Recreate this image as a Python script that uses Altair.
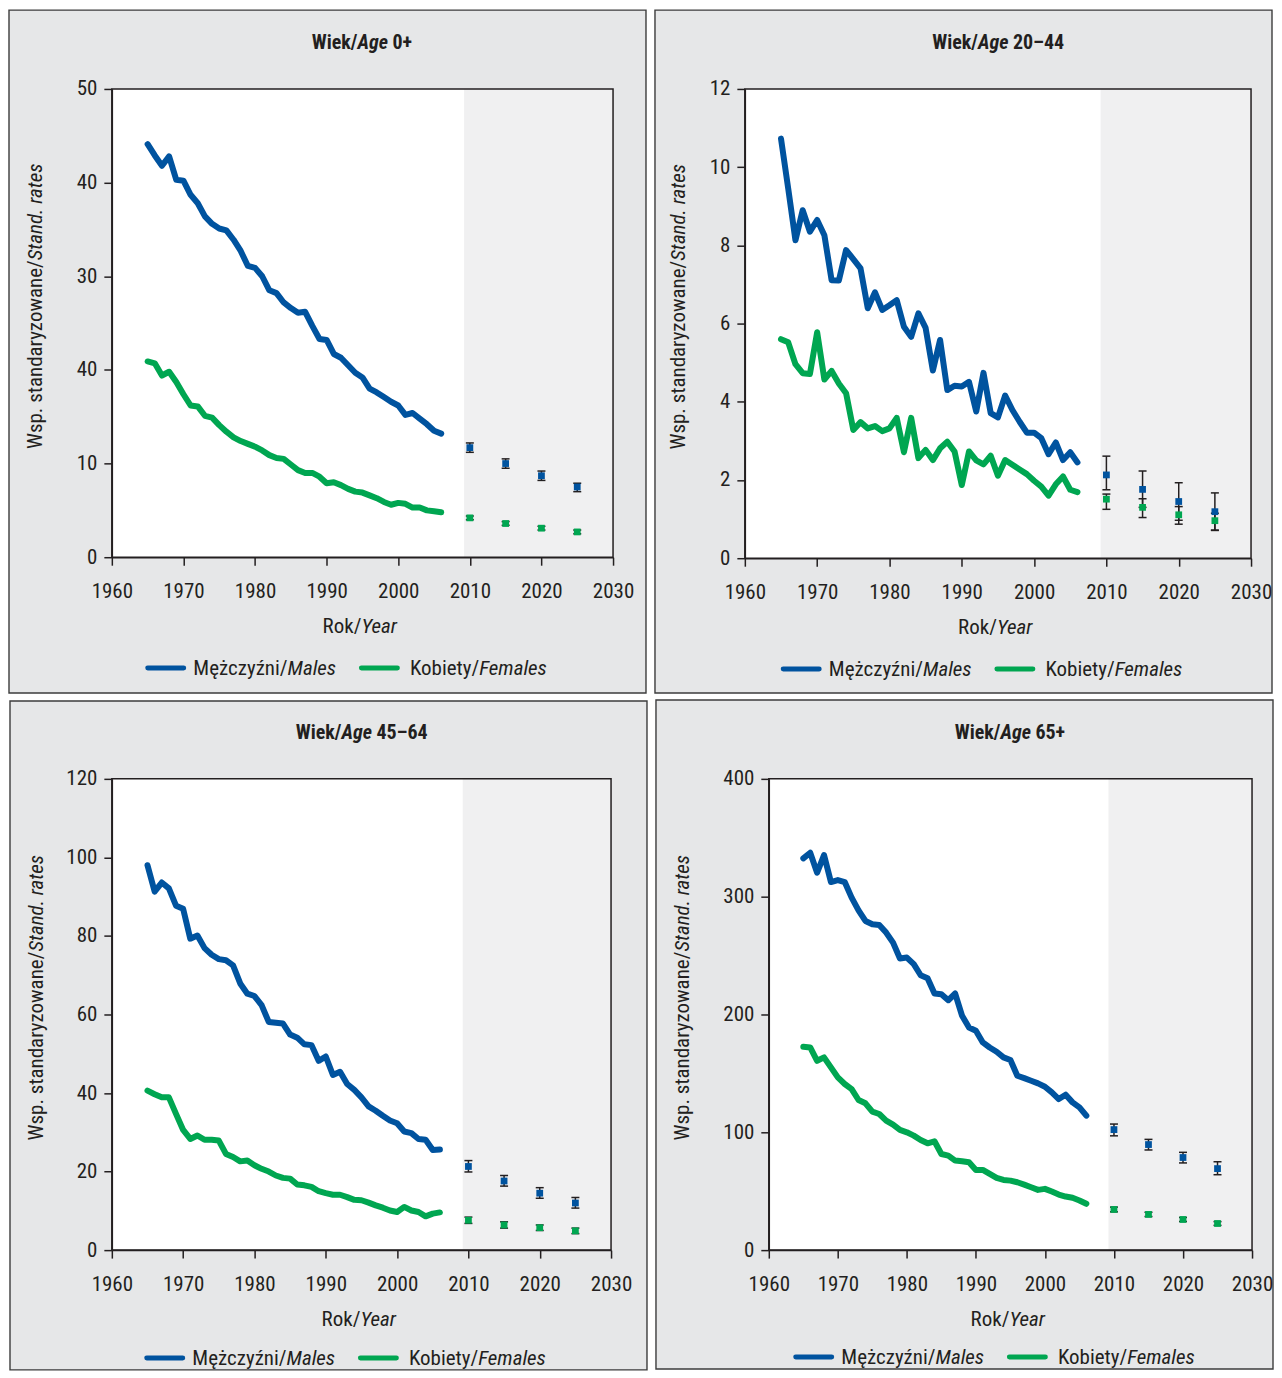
import json
import altair as alt
import pandas as pd

# ---------------- data ----------------
YEARS = list(range(1965, 2007))
PROJ_YEARS = [2010, 2015, 2020, 2025]
X_TICKS = [1960, 1970, 1980, 1990, 2000, 2010, 2020, 2030]
SHADE_FROM = 2009.2

# Panel 1: Age 0+
p1_male = [44.1, 42.9, 41.8, 42.8, 40.3, 40.2, 38.7, 37.8, 36.4, 35.6,
           35.1, 34.9, 33.9, 32.7, 31.1, 30.9, 30.0, 28.5, 28.2, 27.2,
           26.6, 26.1, 26.2, 24.7, 23.3, 23.2, 21.7, 21.3, 20.5, 19.7,
           19.2, 18.0, 17.6, 17.1, 16.6, 16.2, 15.2, 15.4, 14.8, 14.2,
           13.5, 13.2]
p1_female = [20.9, 20.7, 19.4, 19.8, 18.7, 17.4, 16.2, 16.1, 15.1, 14.9,
             14.1, 13.4, 12.8, 12.4, 12.1, 11.8, 11.4, 10.9, 10.6, 10.5,
             9.9, 9.3, 9.0, 9.0, 8.6, 7.9, 8.0, 7.7, 7.3, 7.0,
             6.9, 6.6, 6.3, 5.9, 5.6, 5.8, 5.7, 5.3, 5.3, 5.0,
             4.9, 4.8]
p1_pm = [11.7, 10.0, 8.7, 7.5]
p1_pm_lo = [11.2, 9.5, 8.2, 7.0]
p1_pm_hi = [12.2, 10.5, 9.2, 7.9]
p1_pf = [4.2, 3.6, 3.1, 2.7]
p1_pf_lo = [4.0, 3.4, 2.9, 2.5]
p1_pf_hi = [4.4, 3.8, 3.3, 2.9]
p1_yticks = [0, 10, 20, 30, 40, 50]
p1_ylabels = ["0", "10", "40", "30", "40", "50"]

# Panel 2: Age 20-44
p2_male = [10.73, 9.45, 8.13, 8.9, 8.35, 8.65, 8.26, 7.11, 7.1, 7.88,
           7.65, 7.41, 6.39, 6.8, 6.35, 6.47, 6.6, 5.92, 5.66, 6.26,
           5.89, 4.8, 5.58, 4.3, 4.41, 4.39, 4.51, 3.75, 4.74, 3.71,
           3.6, 4.16, 3.79, 3.49, 3.21, 3.21, 3.07, 2.66, 2.96, 2.51,
           2.71, 2.45]
p2_female = [5.6, 5.52, 4.96, 4.73, 4.71, 5.78, 4.57, 4.79, 4.47, 4.22,
             3.28, 3.48, 3.32, 3.38, 3.25, 3.32, 3.59, 2.71, 3.59, 2.56,
             2.77, 2.51, 2.81, 2.98, 2.73, 1.87, 2.73, 2.5, 2.4, 2.62,
             2.11, 2.51, 2.39, 2.27, 2.15, 1.98, 1.83, 1.6, 1.89, 2.09,
             1.75, 1.69]
p2_pm = [2.13, 1.76, 1.45, 1.19]
p2_pm_lo = [1.75, 1.30, 0.97, 0.71]
p2_pm_hi = [2.61, 2.23, 1.93, 1.67]
p2_pf = [1.51, 1.30, 1.11, 0.96]
p2_pf_lo = [1.25, 1.04, 0.87, 0.72]
p2_pf_hi = [1.64, 1.52, 1.32, 1.15]
p2_yticks = [0, 2, 4, 6, 8, 10, 12]
p2_ylabels = ["0", "2", "4", "6", "8", "10", "12"]

# Panel 3: Age 45-64
p3_male = [98.0, 91.3, 93.6, 92.1, 87.7, 86.9, 79.3, 80.1, 76.9, 75.2,
           74.1, 73.8, 72.5, 67.9, 65.3, 64.7, 62.4, 58.1, 57.9, 57.7,
           54.9, 54.1, 52.4, 52.2, 48.2, 49.3, 44.6, 45.4, 42.3, 40.8,
           38.9, 36.6, 35.5, 34.2, 33.0, 32.3, 30.2, 29.8, 28.3, 28.1,
           25.5, 25.6]
p3_female = [40.6, 39.7, 38.9, 38.9, 34.7, 30.6, 28.3, 29.2, 28.1, 28.1,
             27.9, 24.5, 23.7, 22.6, 22.8, 21.6, 20.7, 20.0, 19.0, 18.4,
             18.2, 16.7, 16.5, 16.1, 15.0, 14.5, 14.1, 14.1, 13.5, 12.8,
             12.7, 12.1, 11.4, 10.8, 10.1, 9.7, 11.0, 10.1, 9.7, 8.6,
             9.3, 9.6]
p3_pm = [21.3, 17.6, 14.5, 12.0]
p3_pm_lo = [19.9, 16.3, 13.2, 10.7]
p3_pm_hi = [22.8, 19.0, 15.9, 13.4]
p3_pf = [7.6, 6.4, 5.7, 4.9]
p3_pf_lo = [6.8, 5.6, 5.0, 4.2]
p3_pf_hi = [8.4, 7.2, 6.4, 5.6]
p3_yticks = [0, 20, 40, 60, 80, 100, 120]
p3_ylabels = ["0", "20", "40", "60", "80", "100", "120"]

# Panel 4: Age 65+
p4_male = [332.5, 337.3, 320.3, 335.3, 312.4, 314.1, 312.4, 299.2, 288.4, 279.4,
           276.6, 276.0, 269.5, 261.0, 247.5, 248.3, 242.7, 233.3, 230.8, 217.8,
           217.2, 212.1, 217.8, 198.9, 189.0, 186.2, 176.3, 172.0, 168.4, 163.6,
           161.3, 148.0, 146.0, 143.8, 141.5, 138.7, 133.9, 128.2, 131.9, 125.4,
           121.2, 114.1]
p4_female = [172.6, 172.0, 160.7, 163.6, 155.1, 146.6, 141.0, 136.7, 127.4, 124.6,
             117.5, 115.5, 109.9, 106.5, 102.0, 100.0, 97.2, 93.5, 90.7, 92.4,
             81.6, 80.2, 76.0, 75.4, 74.6, 68.1, 68.1, 64.7, 61.3, 59.6,
             59.0, 57.6, 55.6, 53.4, 51.1, 52.0, 49.7, 47.2, 45.5, 44.4,
             42.1, 39.3]
p4_pm = [102.3, 89.6, 78.6, 69.2]
p4_pm_lo = [97.0, 85.0, 74.0, 64.0]
p4_pm_hi = [107.0, 94.0, 83.0, 75.0]
p4_pf = [34.5, 30.3, 26.0, 22.6]
p4_pf_lo = [32.5, 28.5, 24.3, 21.0]
p4_pf_hi = [36.5, 32.1, 27.7, 24.2]
p4_yticks = [0, 100, 200, 300, 400]
p4_ylabels = ["0", "100", "200", "300", "400"]

TITLE_SUFFIX = ["0+", "20\u201344", "45\u201364", "65+"]

# ---------------- style ----------------
FONT = "Liberation Sans Narrow, Arial Narrow, Roboto Condensed, DejaVu Sans Condensed, sans-serif"
BLUE = "#00539f"
GREEN = "#00a651"
INK = "#231f20"
PANEL_BG = "#e6e7e8"
SHADE = "#f0f0f1"
BORDER = "#3c3c3c"

ONE = pd.DataFrame({"k": [0]})

AXIS_STYLE = dict(
    labelFont=FONT, labelFontSize=21, labelColor=INK,
    tickColor=INK, tickSize=8, tickWidth=1.5,
    domainColor=INK, domainWidth=1.5,
    grid=False, zindex=2, labelFlush=False, labelOverlap=False, title=None,
)


def txt(text, x, y, align="left", size=21, style="normal", weight="normal", angle=0):
    kw = dict(text=text, align=align, baseline="middle", font=FONT, fontSize=size,
              fontStyle=style, fontWeight=weight, color=INK)
    if angle:
        kw["angle"] = angle
    return alt.Chart(ONE).mark_text(**kw).encode(x=alt.value(x), y=alt.value(y))


def hrule(x1, x2, y, color):
    return alt.Chart(ONE).mark_rule(color=color, strokeWidth=5, strokeCap="round").encode(
        x=alt.value(x1), x2=alt.value(x2), y=alt.value(y))


def panel(male, female, pm, pm_lo, pm_hi, pf, pf_lo, pf_hi, yticks, ylabels, suffix, geo):
    w, h = geo["w"], geo["h"]
    cx = w / 2
    xs = alt.Scale(domain=[1960, 2030], nice=False, zero=False)
    ys = alt.Scale(domain=[yticks[0], yticks[-1]], nice=False)
    xax = alt.Axis(values=X_TICKS, format="d", labelPadding=15, **AXIS_STYLE)
    label_expr = "%s[indexof(%s, datum.value)]" % (json.dumps(ylabels), json.dumps(yticks))
    yax = alt.Axis(values=yticks, labelPadding=7, labelExpr=label_expr, **AXIS_STYLE)
    color = alt.Color("sex:N", scale=alt.Scale(domain=["M", "K"], range=[BLUE, GREEN]), legend=None)

    df = pd.DataFrame({
        "year": YEARS + YEARS,
        "value": male + female,
        "sex": ["M"] * len(YEARS) + ["K"] * len(YEARS),
    })
    proj = pd.DataFrame({
        "year": PROJ_YEARS + PROJ_YEARS,
        "val": pm + pf,
        "lo": pm_lo + pf_lo,
        "hi": pm_hi + pf_hi,
        "sex": ["M"] * 4 + ["K"] * 4,
    })
    shade = pd.DataFrame({"x0": [SHADE_FROM], "x1": [2030]})

    bg = alt.Chart(ONE).mark_rect(fill=PANEL_BG, stroke=BORDER, strokeWidth=1.4).encode(
        x=alt.value(geo["l"]), x2=alt.value(w + geo["r"]),
        y=alt.value(geo["t"]), y2=alt.value(h + geo["b"]))
    plot_bg = alt.Chart(ONE).mark_rect(fill="white").encode(
        x=alt.value(0), x2=alt.value(w), y=alt.value(0), y2=alt.value(h))
    shade_l = alt.Chart(shade).mark_rect(fill=SHADE).encode(
        x=alt.X("x0:Q", scale=xs, axis=xax), x2="x1:Q",
        y=alt.value(0), y2=alt.value(h))
    frame = alt.Chart(ONE).mark_rect(fillOpacity=0, stroke=INK, strokeWidth=1.5).encode(
        x=alt.value(0), x2=alt.value(w), y=alt.value(0), y2=alt.value(h))

    lines = alt.Chart(df).mark_line(strokeWidth=6, strokeCap="round", strokeJoin="round").encode(
        x=alt.X("year:Q", scale=xs, axis=xax),
        y=alt.Y("value:Q", scale=ys, axis=yax),
        color=color)
    err = alt.Chart(proj).mark_rule(color=INK, strokeWidth=1.5).encode(
        x=alt.X("year:Q", scale=xs, axis=xax),
        y=alt.Y("lo:Q", scale=ys, axis=yax), y2="hi:Q")
    cap_lo = alt.Chart(proj).mark_tick(color=INK, orient="horizontal", size=8, thickness=1.5, opacity=1).encode(
        x=alt.X("year:Q", scale=xs, axis=xax),
        y=alt.Y("lo:Q", scale=ys, axis=yax))
    cap_hi = alt.Chart(proj).mark_tick(color=INK, orient="horizontal", size=8, thickness=1.5, opacity=1).encode(
        x=alt.X("year:Q", scale=xs, axis=xax),
        y=alt.Y("hi:Q", scale=ys, axis=yax))
    pts = alt.Chart(proj).mark_square(size=46, opacity=1).encode(
        x=alt.X("year:Q", scale=xs, axis=xax),
        y=alt.Y("val:Q", scale=ys, axis=yax),
        color=color)

    j1 = cx + geo["tj"]
    ly = h + geo["ly"]
    texts = [
        txt("Wiek/", j1, -46, "right", 20, weight="bold"),
        txt("Age", j1, -46, "left", 20, style="italic", weight="bold"),
        txt(suffix, j1 + 35, -46, "left", 20, weight="bold"),
        txt("Wsp. standaryzowane/", geo["yt"], h / 2 - 63, "right", 21, angle=270),
        txt("Stand. rates", geo["yt"], h / 2 - 63, "left", 21, style="italic", angle=270),
        txt("Rok/", cx - 1, h + 70, "right", 21),
        txt("Year", cx - 1, h + 70, "left", 21, style="italic"),
        hrule(cx - 215, cx - 179, ly - 1, BLUE),
        txt("M\u0119\u017cczy\u017ani/", cx - 75, ly, "right", 21),
        txt("Males", cx - 75, ly, "left", 21, style="italic"),
        hrule(cx - 1, cx + 35, ly - 1, GREEN),
        txt("Kobiety/", cx + 117, ly, "right", 21),
        txt("Females", cx + 117, ly, "left", 21, style="italic"),
    ]
    return alt.layer(bg, plot_bg, shade_l, frame, lines, err, cap_lo, cap_hi, pts, *texts).properties(
        width=w, height=h)


# plot-area geometry (page px): p1 x111 y87, p2 x744 y87, p3 x110 y776, p4 x767 y777
G1 = dict(w=502, h=469, l=-103, r=33, t=-79, b=136, tj=-5, yt=-76, ly=112)
G2 = dict(w=507, h=470, l=-90, r=21, t=-79, b=135, tj=-20, yt=-66, ly=112)
G3 = dict(w=500, h=472, l=-102, r=36, t=-78, b=1368 - 1248, tj=-20, yt=-75, ly=109)
G4 = dict(w=484, h=472, l=-113, r=21, t=-79, b=1368 - 1249, tj=-10, yt=-86, ly=108)

c1 = panel(p1_male, p1_female, p1_pm, p1_pm_lo, p1_pm_hi, p1_pf, p1_pf_lo, p1_pf_hi,
           p1_yticks, p1_ylabels, TITLE_SUFFIX[0], G1)
c2 = panel(p2_male, p2_female, p2_pm, p2_pm_lo, p2_pm_hi, p2_pf, p2_pf_lo, p2_pf_hi,
           p2_yticks, p2_ylabels, TITLE_SUFFIX[1], G2)
c3 = panel(p3_male, p3_female, p3_pm, p3_pm_lo, p3_pm_hi, p3_pf, p3_pf_lo, p3_pf_hi,
           p3_yticks, p3_ylabels, TITLE_SUFFIX[2], G3)
c4 = panel(p4_male, p4_female, p4_pm, p4_pm_lo, p4_pm_hi, p4_pf, p4_pf_lo, p4_pf_hi,
           p4_yticks, p4_ylabels, TITLE_SUFFIX[3], G4)

chart = alt.vconcat(
    alt.hconcat(c1, c2, spacing=7, bounds="full"),
    alt.hconcat(c3, c4, spacing=7, bounds="full"),
    spacing=5, bounds="full",
).properties(padding=0, background="white").configure(padding=0).configure_view(strokeWidth=0)

chart.save("out.html", embed_options={"renderer": "svg", "actions": False})
